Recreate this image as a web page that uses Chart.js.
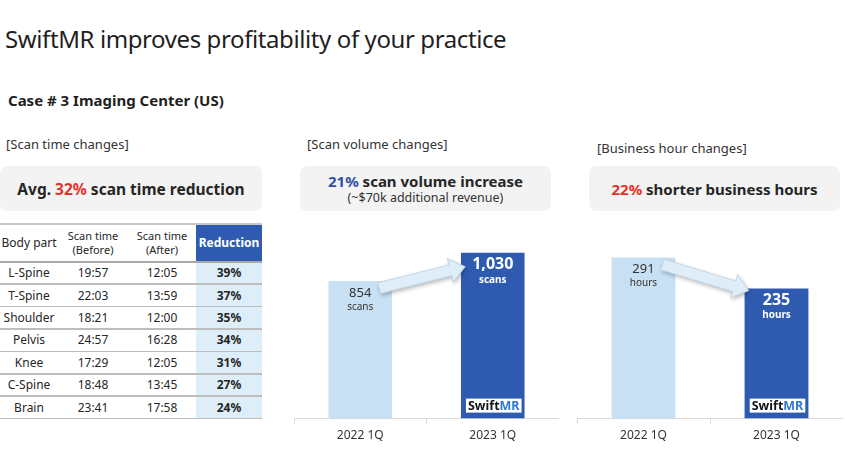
<!DOCTYPE html>
<html>
<head>
<meta charset="utf-8">
<title>SwiftMR profitability</title>
<script src="https://cdn.jsdelivr.net/npm/chart.js@4.4.0/dist/chart.umd.min.js"></script>
<style>
  body { margin:0; width:845px; height:457px; position:relative; overflow:hidden; background:#fff;
         font-family:"Noto Sans", sans-serif; color:#262626; }
  .a { position:absolute; white-space:nowrap; }
  #title { left:5px; top:24px; font-size:24px; letter-spacing:-0.4px; line-height:30px; color:#1f1f1f; }
  #case { left:8px; top:90px; font-size:15px; font-weight:bold; line-height:20px; color:#1f1f1f; }
  .sec { font-size:13px; line-height:16px; color:#333; }
  .box { background:#f3f3f3; border-radius:7px; top:166px; height:45px; display:flex;
         flex-direction:column; justify-content:center; align-items:center; }
  .big { font-size:15px; font-weight:bold; line-height:18px; color:#262626; }
  .small { font-size:12.5px; line-height:16px; color:#333; }
  .red { color:#e2322b; }
  .blue { color:#2c50a8; }
  #tbl { left:0; top:223px; width:262px; height:200px; font-size:12px; color:#262626; }
  .cell { position:absolute; display:flex; align-items:center; justify-content:center; text-align:center; line-height:14px; }
  .line { position:absolute; left:0; width:262px; }
  canvas { position:absolute; }
</style>
</head>
<body>
<div id="title" class="a">SwiftMR improves profitability of your practice</div>
<div id="case" class="a">Case # 3 Imaging Center (US)</div>

<div class="a sec" style="left:6px;top:136px">[Scan time changes]</div>
<div class="a sec" style="left:307px;top:136px">[Scan volume changes]</div>
<div class="a sec" style="left:597px;top:140px">[Business hour changes]</div>

<div class="a box" style="left:0;width:262px">
  <div class="big" style="font-size:15.5px">Avg. <span class="red">32%</span> scan time reduction</div>
</div>
<div class="a box" style="left:300px;width:251px">
  <div class="big"><span class="blue">21%</span> scan volume increase</div>
  <div class="small">(~$70k additional revenue)</div>
</div>
<div class="a box" style="left:589px;width:251px">
  <div class="big"><span class="red">22%</span> shorter business hours</div>
</div>

<div id="tbl" class="a"></div>

<canvas id="volumeChart" width="265" height="242" style="left:294px;top:215px"></canvas>
<canvas id="hoursChart" width="266" height="242" style="left:577px;top:215px"></canvas>

<script>
// Données du tableau (temps d'examen)
const bodyParts = ['L-Spine', 'T-Spine', 'Shoulder', 'Pelvis', 'Knee', 'C-Spine', 'Brain'];
const scanBefore = ['19:57', '22:03', '18:21', '24:57', '17:29', '18:48', '23:41'];
const scanAfter = ['12:05', '13:59', '12:00', '16:28', '12:05', '13:45', '17:58'];
const reductionPct = [39, 37, 35, 34, 31, 27, 24];

// Données des graphes
const quarters = ['2022 1Q', '2023 1Q'];
const scanVolume = [854, 1030];
const businessHours = [291, 235];

const lightBlue = '#c7e0f3';
const darkBlue = '#2e5bb0';

// Tableau
const tbl = document.getElementById('tbl');
const cols = [[0, 58], [58, 70], [128, 68], [196, 66]];
const headH = 39, rowH = 22.4;

function addCell(top, h, col, html, style) {
  const d = document.createElement('div');
  d.className = 'cell';
  d.style.cssText = `top:${top}px;height:${h}px;left:${cols[col][0]}px;width:${cols[col][1]}px;` + (style || '');
  d.innerHTML = html;
  tbl.appendChild(d);
}
function addLine(top, thick, color) {
  const d = document.createElement('div');
  d.className = 'line';
  d.style.cssText = `top:${top}px;height:${thick}px;background:${color};`;
  tbl.appendChild(d);
}

addCell(0, headH, 0, 'Body part');
addCell(0, headH, 1, 'Scan time<br>(Before)', 'font-size:11px;');
addCell(0, headH, 2, 'Scan time<br>(After)', 'font-size:11px;');
addCell(1, headH - 1, 3, 'Reduction', 'background:' + darkBlue + ';color:#fff;font-weight:bold;');
bodyParts.forEach((part, i) => {
  const top = headH + i * rowH;
  addCell(top, rowH, 0, part);
  addCell(top, rowH, 1, scanBefore[i]);
  addCell(top, rowH, 2, scanAfter[i]);
  addCell(top, rowH, 3, reductionPct[i] + '%', 'background:#deeef9;font-weight:bold;');
});
addLine(0, 1.5, '#c8c8c8');
addLine(headH - 1, 2, '#a9a9a9');
for (let i = 1; i <= bodyParts.length; i++) {
  addLine(headH + i * rowH - 1, 1.5, '#bdbdbd');
}

// Flèche, étiquettes et logo sur les barres
function drawArrow(ctx, x1, y1, x2, y2) {
  const ang = Math.atan2(y2 - y1, x2 - x1);
  const len = Math.hypot(x2 - x1, y2 - y1);
  const sh = 5.5, hh = 12, hl = 15;
  ctx.save();
  ctx.translate(x1, y1);
  ctx.rotate(ang);
  ctx.beginPath();
  ctx.moveTo(0, -sh);
  ctx.lineTo(len - hl, -sh);
  ctx.lineTo(len - hl, -hh);
  ctx.lineTo(len, 0);
  ctx.lineTo(len - hl, hh);
  ctx.lineTo(len - hl, sh);
  ctx.lineTo(0, sh);
  ctx.closePath();
  ctx.shadowColor = 'rgba(0,0,0,0.3)';
  ctx.shadowBlur = 4;
  ctx.shadowOffsetX = 1;
  ctx.shadowOffsetY = 2;
  ctx.fillStyle = '#deedf8';
  ctx.fill();
  ctx.shadowColor = 'transparent';
  ctx.strokeStyle = '#c6d7e5';
  ctx.lineWidth = 1;
  ctx.stroke();
  ctx.restore();
}

const barDecor = {
  id: 'barDecor',
  afterDatasetsDraw(chart, args, opts) {
    const ctx = chart.ctx;
    const [b0, b1] = chart.getDatasetMeta(0).data;
    const vals = chart.data.datasets[0].data;
    const base = chart.scales.y.getPixelForValue(0);

    drawArrow(ctx, b0.x + 19, b0.y + 7, b1.x - b1.width / 2 + 4, b1.y + opts.tipDy);

    ctx.save();
    ctx.textAlign = 'center';
    ctx.textBaseline = 'middle';
    ctx.fillStyle = '#333';
    ctx.font = '13px "Noto Sans"';
    ctx.fillText(vals[0].toLocaleString('en-US'), b0.x, b0.y + 12);
    ctx.font = '10px "Noto Sans"';
    ctx.fillText(opts.unit, b0.x, b0.y + 26);

    ctx.fillStyle = '#fff';
    ctx.font = 'bold 16px "Noto Sans"';
    ctx.fillText(vals[1].toLocaleString('en-US'), b1.x, b1.y + 12);
    ctx.font = 'bold 10px "Noto Sans"';
    ctx.fillText(opts.unit, b1.x, b1.y + 27);

    // logo SwiftMR
    ctx.font = 'bold 12.5px "Noto Sans"';
    const w1 = ctx.measureText('Swift').width;
    const w2 = ctx.measureText('MR').width;
    const bw = w1 + w2 + 4, bh = 14;
    const bx = b1.x + 1 - bw / 2, by = base - 6 - bh;
    ctx.fillStyle = '#fff';
    ctx.fillRect(bx, by, bw, bh);
    ctx.textAlign = 'left';
    ctx.fillStyle = '#111';
    ctx.fillText('Swift', bx + 2, by + bh / 2 + 0.5);
    ctx.fillStyle = '#2f7ad0';
    ctx.fillText('MR', bx + 2 + w1, by + bh / 2 + 0.5);
    ctx.restore();
  }
};

function makeBarChart(id, values, unit, yMax, tipDy) {
  return new Chart(document.getElementById(id), {
    type: 'bar',
    data: {
      labels: quarters,
      datasets: [{
        data: values,
        backgroundColor: [lightBlue, darkBlue],
        borderWidth: 0,
        categoryPercentage: 1,
        barPercentage: 0.48
      }]
    },
    options: {
      responsive: false,
      animation: false,
      devicePixelRatio: 1,
      layout: {
        padding: { top: 0, bottom: 9, left: 0, right: 0 }
      },
      plugins: {
        legend: { display: false },
        tooltip: { enabled: false },
        barDecor: { unit: unit, tipDy: tipDy }
      },
      scales: {
        x: {
          grid: {
            offset: true,
            drawOnChartArea: false,
            tickLength: 5,
            color: '#d9d9d9'
          },
          border: { color: '#d9d9d9' },
          ticks: {
            color: '#333',
            padding: 5,
            font: { family: 'Noto Sans', size: 12 }
          }
        },
        y: {
          display: false,
          min: 0,
          max: yMax
        }
      }
    },
    plugins: [barDecor]
  });
}

makeBarChart('volumeChart', scanVolume, 'scans', 1264, 14);
makeBarChart('hoursChart', businessHours, 'hours', 368, 2);
</script>
</body>
</html>
